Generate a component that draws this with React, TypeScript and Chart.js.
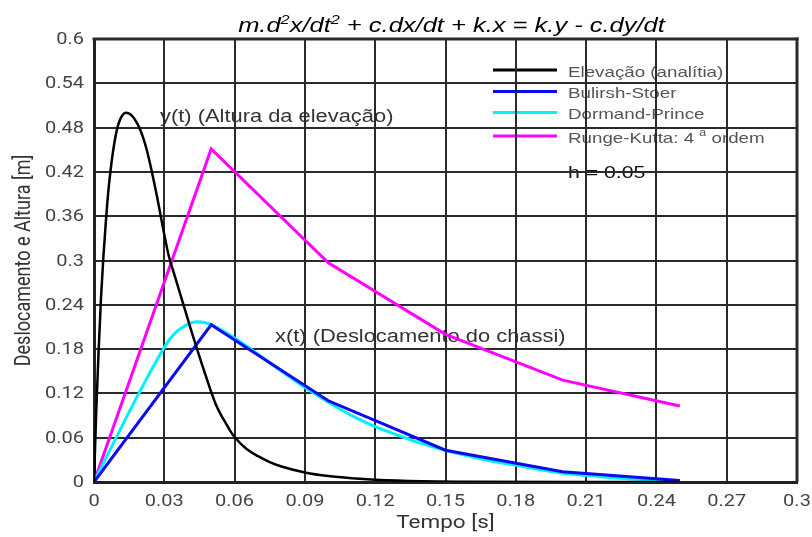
import React, { useEffect, useRef } from 'react';
import { Chart, registerables } from 'chart.js';

Chart.register(...registerables);

// ---------------- data ----------------
const T_ELEV = [0, 0.001, 0.002, 0.003, 0.004, 0.005, 0.006, 0.007, 0.008, 0.009, 0.01, 0.011, 0.012, 0.0135, 0.015, 0.0165, 0.018, 0.0196, 0.021, 0.0225, 0.024, 0.0255, 0.027, 0.0285, 0.03, 0.032, 0.034, 0.036, 0.038, 0.04, 0.042, 0.044, 0.046, 0.048, 0.05, 0.052, 0.054, 0.056, 0.058, 0.06, 0.065, 0.07, 0.075, 0.08, 0.09, 0.1, 0.11, 0.12, 0.14, 0.16, 0.2, 0.25];
const Y_ELEV = [0, 0.1, 0.18, 0.25, 0.305, 0.35, 0.39, 0.42, 0.445, 0.465, 0.48, 0.49, 0.496, 0.5, 0.499, 0.495, 0.488, 0.478, 0.466, 0.45, 0.43, 0.408, 0.385, 0.36, 0.335, 0.305, 0.284, 0.263, 0.242, 0.221, 0.2, 0.18, 0.16, 0.141, 0.122, 0.105, 0.092, 0.081, 0.07, 0.061, 0.045, 0.035, 0.027, 0.021, 0.013, 0.008, 0.005, 0.003, 0.001, 0.0004, 0, 0];

const T_BS = [0, 0.05, 0.1, 0.15, 0.2, 0.25];
const Y_BS = [0, 0.213, 0.11, 0.043, 0.014, 0.002];

const T_DP = [0, 0.003, 0.006, 0.009, 0.012, 0.015, 0.018, 0.021, 0.024, 0.027, 0.029, 0.032, 0.035, 0.038, 0.041, 0.044, 0.047, 0.05, 0.06, 0.07, 0.08, 0.09, 0.1, 0.11, 0.12, 0.13, 0.14, 0.15, 0.16, 0.17, 0.18, 0.19, 0.2, 0.21, 0.22, 0.23, 0.24, 0.25];
const Y_DP = [0, 0.019, 0.038, 0.057, 0.076, 0.095, 0.113, 0.131, 0.149, 0.166, 0.177, 0.192, 0.203, 0.21, 0.215, 0.217, 0.216, 0.213, 0.195, 0.173, 0.15, 0.128, 0.108, 0.09, 0.075, 0.063, 0.052, 0.043, 0.035, 0.028, 0.023, 0.017, 0.012, 0.009, 0.006, 0.004, 0.002, 0.001];

const T_RK = [0, 0.05, 0.1, 0.15, 0.2, 0.25];
const Y_RK = [0, 0.451, 0.297, 0.2, 0.138, 0.103];

const SERIES_LABELS = ['Elevação (analítia)', 'Bulirsh-Stoer', 'Dormand-Prince', 'Runge-Kutta: 4ª ordem'];

const X_TICKS = [0, 0.03, 0.06, 0.09, 0.12, 0.15, 0.18, 0.21, 0.24, 0.27, 0.3];
const X_TICK_LABELS = ['0', '0.03', '0.06', '0.09', '0.12', '0.15', '0.18', '0.21', '0.24', '0.27', '0.3'];
const Y_TICKS = [0, 0.06, 0.12, 0.18, 0.24, 0.3, 0.36, 0.42, 0.48, 0.54, 0.6];
const Y_TICK_LABELS = ['0', '0.06', '0.12', '0.18', '0.24', '0.3', '0.36', '0.42', '0.48', '0.54', '0.6'];

const X_TITLE = 'Tempo [s]';
const Y_TITLE = 'Deslocamento e Altura [m]';
const ANNOT_Y = 'y(t) (Altura da elevação)';
const ANNOT_X = 'x(t) (Deslocamento do chassi)';
const STEP_NOTE = 'h = 0.05';

const TITLE_PARTS: [string, boolean][] = [
  ['m.d', false], ['2', true], ['x/dt', false], ['2', true], [' + c.dx/dt + k.x = k.y - c.dy/dt', false],
];
const LEGEND_PARTS: [string, boolean][][] = [
  [['Elevação (analítia)', false]],
  [['Bulirsh-Stoer', false]],
  [['Dormand-Prince', false]],
  [['Runge-Kutta: 4 ', false], ['a', true], [' ordem', false]],
];

// ---------------- styling ----------------
const SX = 1.25; // horizontal stretch of the reference's lettering
const COLORS = ['#000000', '#0a0af5', '#00f0ff', '#ff00ff'];
const SANS = '"Liberation Sans", Arial, sans-serif';
const GRID_COLOR = '#2a2a2a';

function stretchedText(ctx: any, text: string, x: number, y: number, align: string, baseline: string, rotate = 0) {
  ctx.save();
  ctx.translate(x, y);
  ctx.scale(SX, 1);
  if (rotate) ctx.rotate(rotate);
  ctx.textAlign = align;
  ctx.textBaseline = baseline;
  ctx.fillText(text, 0, 0);
  ctx.restore();
}

function drawParts(ctx: any, parts: [string, boolean][], x: number, y: number, font: string, supFont: string, rise: number, color: string, align: 'left' | 'center') {
  ctx.save();
  ctx.fillStyle = color;
  const widths = parts.map(([t, sup]) => {
    ctx.font = sup ? supFont : font;
    return ctx.measureText(t).width * SX;
  });
  const total = widths.reduce((a, b) => a + b, 0);
  let cx = align === 'center' ? x - total / 2 : x;
  parts.forEach(([t, sup], i) => {
    ctx.font = sup ? supFont : font;
    stretchedText(ctx, t, cx, sup ? y - rise : y, 'left', 'alphabetic');
    cx += widths[i];
  });
  ctx.restore();
}

const decorPlugin = {
  id: 'decor',
  beforeDraw(chart: any) {
    const ctx = chart.ctx;
    const area = chart.chartArea;
    ctx.save();
    // title
    drawParts(ctx, TITLE_PARTS, (area.left + area.right) / 2 + 6, 32, `italic 20.4px ${SANS}`, `italic 13px ${SANS}`, 8, '#000', 'center');
    // axis titles
    ctx.fillStyle = '#333';
    ctx.font = '18px Roboto';
    stretchedText(ctx, X_TITLE, (area.left + area.right) / 2, 523, 'center', 'middle');
    stretchedText(ctx, Y_TITLE, 24, (area.top + area.bottom) / 2, 'center', 'middle', -Math.PI / 2);
    // tick labels, placed by the scales' own ticks
    ctx.fillStyle = '#444';
    ctx.font = '16px Roboto';
    const xs = chart.scales.x;
    const ys = chart.scales.y;
    xs.ticks.forEach((t: any, i: number) => {
      stretchedText(ctx, String(t.label ?? X_TICK_LABELS[i]), xs.getPixelForValue(t.value), 502, 'center', 'middle');
    });
    ys.ticks.forEach((t: any, i: number) => {
      stretchedText(ctx, String(t.label ?? Y_TICK_LABELS[i]), area.left - 10, ys.getPixelForValue(t.value) + 1, 'right', 'middle');
    });
    // annotations
    ctx.font = `17.5px ${SANS}`;
    ctx.fillStyle = '#333';
    stretchedText(ctx, ANNOT_Y, 160, 122, 'left', 'alphabetic');
    stretchedText(ctx, ANNOT_X, 275, 342, 'left', 'alphabetic');
    // legend
    const rowY = [70, 91.5, 112.5, 136];
    chart.data.datasets.forEach((ds: any, i: number) => {
      ctx.beginPath();
      ctx.strokeStyle = ds.borderColor;
      ctx.lineWidth = 3;
      ctx.moveTo(493, rowY[i]);
      ctx.lineTo(557, rowY[i]);
      ctx.stroke();
      drawParts(ctx, LEGEND_PARTS[i], 568, rowY[i] + 6.5, `15px ${SANS}`, `10px ${SANS}`, 7, '#555', 'left');
    });
    ctx.font = `17px ${SANS}`;
    ctx.fillStyle = '#111';
    stretchedText(ctx, STEP_NOTE, 568, 178, 'left', 'alphabetic');
    ctx.restore();
  },
  beforeDatasetsDraw(chart: any) {
    // top and right frame of the plot, from the scales
    const { ctx, chartArea: a, scales } = chart;
    const xr = Math.round(scales.x.getPixelForValue(X_TICKS[X_TICKS.length - 1]));
    const yt = Math.round(scales.y.getPixelForValue(Y_TICKS[Y_TICKS.length - 1]));
    ctx.save();
    ctx.fillStyle = GRID_COLOR;
    ctx.fillRect(a.left - 1.5, yt - 1.5, xr - a.left + 3, 3);
    ctx.fillRect(xr - 1.5, yt - 1.5, 3, a.bottom - yt + 1.5);
    ctx.restore();
  },
};

function pts(xs: number[], ys: number[]) {
  return xs.map((x, i) => ({ x, y: ys[i] }));
}

export default function App() {
  const ref = useRef<HTMLCanvasElement>(null);
  useEffect(() => {
    const canvas = ref.current!;
    const chart = new Chart(canvas, {
      type: 'scatter',
      data: {
        datasets: [
          { label: SERIES_LABELS[0], data: pts(T_ELEV, Y_ELEV), borderColor: COLORS[0], borderWidth: 2.5, showLine: true, fill: false, cubicInterpolationMode: 'monotone' } as any,
          { label: SERIES_LABELS[1], data: pts(T_BS, Y_BS), borderColor: COLORS[1], borderWidth: 3, showLine: true, fill: false, tension: 0 } as any,
          { label: SERIES_LABELS[2], data: pts(T_DP, Y_DP), borderColor: COLORS[2], borderWidth: 3, showLine: true, fill: false, cubicInterpolationMode: 'monotone' } as any,
          { label: SERIES_LABELS[3], data: pts(T_RK, Y_RK), borderColor: COLORS[3], borderWidth: 3, showLine: true, fill: false, tension: 0 } as any,
        ],
      },
      options: {
        animation: false,
        responsive: false,
        layout: { padding: { top: 39, right: 15, left: 0, bottom: 0 } },
        elements: { point: { radius: 0, hoverRadius: 0 } },
        plugins: { legend: { display: false }, tooltip: { enabled: false } },
        scales: {
          x: {
            type: 'linear', min: 0, max: 0.3,
            afterBuildTicks: (s: any) => { s.ticks = X_TICKS.map((v) => ({ value: v })); },
            afterFit: (s: any) => { s.height = 55; s.paddingLeft = 0; s.paddingRight = 0; },
            ticks: { display: false, callback: (_v: any, i: number) => X_TICK_LABELS[i], autoSkip: false },
            grid: { color: GRID_COLOR, lineWidth: 2, tickLength: 0 },
            border: { color: '#222', width: 3 },
          },
          y: {
            type: 'linear', min: 0, max: 0.6,
            afterBuildTicks: (s: any) => { s.ticks = Y_TICKS.map((v) => ({ value: v })); },
            afterFit: (s: any) => { s.width = 94; s.paddingTop = 0; s.paddingBottom = 0; },
            ticks: { display: false, callback: (_v: any, i: number) => Y_TICK_LABELS[i], autoSkip: false },
            grid: { color: GRID_COLOR, lineWidth: 2, tickLength: 0 },
            border: { color: '#222', width: 3 },
          },
        },
      } as any,
      plugins: [decorPlugin],
    });
    return () => chart.destroy();
  }, []);
  return (
    <div style={{ position: 'absolute', left: 0, top: 0, width: 812, height: 537, background: '#fff' }}>
      <canvas ref={ref} width={812} height={537} style={{ display: 'block', width: 812, height: 537 }} />
    </div>
  );
}
